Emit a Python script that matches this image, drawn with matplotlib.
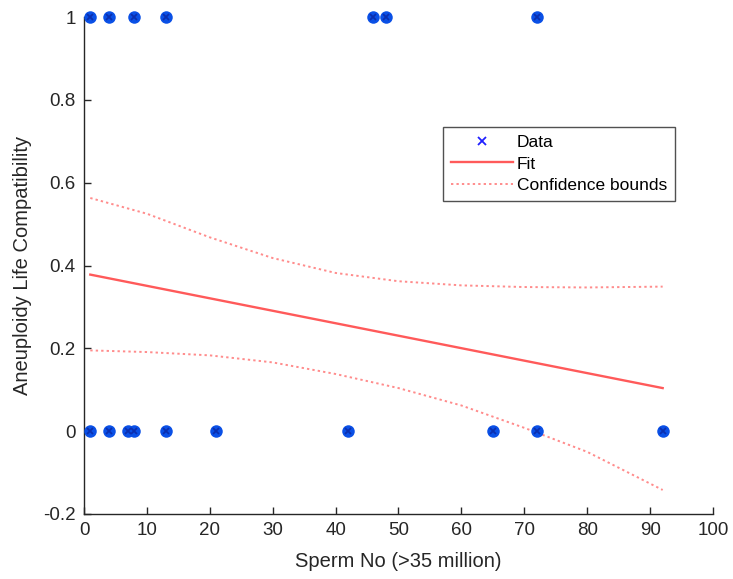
import numpy as np
import matplotlib
matplotlib.use("Agg")
import matplotlib.pyplot as plt
from matplotlib.lines import Line2D

plt.rcParams['font.family'] = ['Liberation Sans', 'DejaVu Sans']

# data
x_zero = [1, 4, 7, 8, 13, 21, 42, 65, 72, 92]
x_one = [1, 4, 8, 13, 46, 48, 72]

fit_x = [1, 92]
fit_y = [0.378, 0.104]

bound_x = [1, 10, 20, 30, 40, 50, 60, 70, 80, 92]
upper_y = [0.563, 0.525, 0.468, 0.418, 0.382, 0.362, 0.352, 0.348, 0.347, 0.349]
lower_y = [0.195, 0.191, 0.183, 0.166, 0.138, 0.104, 0.062, 0.008, -0.05, -0.142]

xticks = [0, 10, 20, 30, 40, 50, 60, 70, 80, 90, 100]
yticks = [-0.2, 0, 0.2, 0.4, 0.6, 0.8, 1]
yticklabels = ['-0.2', '0', '0.2', '0.4', '0.6', '0.8', '1']

fig = plt.figure(figsize=(7.33, 5.79), dpi=100)
ax = fig.add_axes([0.1146, 0.1123, 0.8581, 0.8583])

dot_blue = '#0a50e6'
x_blue = '#0a2fb0'
red = '#ff5a5a'
pink = '#ff8c8c'

xs = x_zero + x_one
ys = [0] * len(x_zero) + [1] * len(x_one)
ax.plot(xs, ys, 'o', color=dot_blue, markersize=9, markeredgewidth=0, clip_on=False, zorder=3)
ax.plot(xs, ys, 'x', color=x_blue, markersize=5, markeredgewidth=1.3, clip_on=False, zorder=4)

ax.plot(fit_x, fit_y, '-', color=red, linewidth=1.7, zorder=2)
ax.plot(bound_x, upper_y, color=pink, linewidth=1.4, dashes=(1.2, 1.6), zorder=2)
ax.plot(bound_x, lower_y, color=pink, linewidth=1.4, dashes=(1.2, 1.6), zorder=2)

ax.set_xlim(0, 100)
ax.set_ylim(-0.2, 1)
ax.set_xticks(xticks)
ax.set_yticks(yticks)
ax.set_yticklabels(yticklabels)

for s in ['top', 'right']:
    ax.spines[s].set_visible(False)
for s in ['left', 'bottom']:
    ax.spines[s].set_color('#262626')
    ax.spines[s].set_linewidth(1.0)
ax.tick_params(direction='in', length=5, width=1.0, colors='#262626', labelsize=13.5, pad=6)

ax.set_xlabel('Sperm No (>35 million)', fontsize=14.5, color='#262626', labelpad=9)
ax.set_ylabel('Aneuploidy Life Compatibility', fontsize=14.5, color='#262626', labelpad=8)

handles = [
    Line2D([], [], linestyle='none', marker='x', color='#2020ff', markersize=6, markeredgewidth=1.3),
    Line2D([], [], color=red, linewidth=1.7),
    Line2D([], [], color=pink, linewidth=1.4, dashes=(1.2, 1.6)),
]
leg = ax.legend(handles, ['Data', 'Fit', 'Confidence bounds'], loc='upper left',
                bbox_to_anchor=(0.571, 0.779), fontsize=12.5, frameon=True, fancybox=False,
                handlelength=3.6, handletextpad=0.2, borderpad=0.45, labelspacing=0.38,
                borderaxespad=0)
leg.get_frame().set_edgecolor('#262626')
leg.get_frame().set_linewidth(1.0)

fig.savefig('out.png', dpi=100)
